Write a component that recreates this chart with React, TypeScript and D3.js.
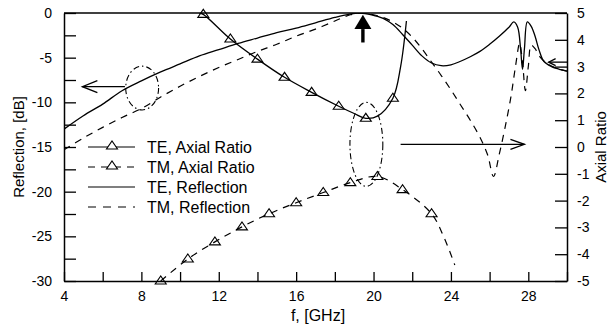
import React, { useEffect, useRef } from 'react'
import * as d3 from 'd3'

// TE, Reflection (solid) - dB vs GHz
const teRefFreq = [4, 5, 6, 7, 8, 9, 10, 11, 12, 13, 14, 15, 16, 17, 18, 18.7, 19.3, 19.9, 20.5, 21, 21.5, 22, 22.5, 23, 23.5, 24, 24.5, 25, 25.5, 26, 26.5, 27, 27.25, 27.45, 27.6, 27.7, 27.8, 27.95, 28.15, 28.35, 28.55, 28.8, 29.2, 29.6, 30]
const teRefDb = [-13.0, -11.5, -10.2, -8.7, -7.6, -6.6, -5.7, -4.8, -4.1, -3.4, -2.8, -2.2, -1.7, -1.1, -0.5, -0.15, 0, -0.2, -0.6, -1.3, -2.4, -3.6, -4.8, -5.6, -5.9, -5.8, -5.4, -4.9, -4.3, -3.5, -2.6, -1.6, -1.0, -1.6, -4.0, -6.3, -4.0, -1.0, -1.5, -2.6, -4.1, -5.4, -6.0, -6.3, -6.5]

// TM, Reflection (dashed)
const tmRefFreq = [4, 5, 6, 7, 8, 9, 10, 11, 12, 13, 14, 15, 16, 17, 18, 18.8, 19.4, 20, 20.5, 21, 21.5, 22, 22.5, 23, 23.5, 24, 24.5, 25, 25.5, 25.9, 26.2, 26.5, 26.8, 27.1, 27.35, 27.55, 27.7, 27.85, 28.0, 28.15, 28.35, 28.6, 29, 29.5, 30]
const tmRefDb = [-15.3, -14.0, -12.8, -11.7, -10.7, -9.4, -8.2, -7.1, -6.1, -5.2, -4.3, -3.5, -2.6, -1.8, -0.9, -0.2, 0, -0.2, -0.5, -1.0, -1.7, -2.7, -4.0, -5.5, -7.0, -8.6, -10.3, -12.0, -13.9, -15.9, -18.3, -15.8, -12.8, -9.4, -5.8, -3.4, -5.5, -8.7, -6.0, -3.6, -4.0, -4.9, -5.7, -6.2, -6.5]

// TE, Axial Ratio (solid + triangles)
const teArFreq = [11.0, 11.2, 12.6, 14.0, 15.4, 16.8, 18.2, 19.0, 19.6, 20.2, 21.0, 21.4, 21.7]
const teArVal = [5.0, 4.95, 4.03, 3.28, 2.6, 2.04, 1.52, 1.25, 1.07, 1.15, 1.82, 3.0, 4.7]
const teArMarkFreq = [11.2, 12.6, 14.0, 15.4, 16.8, 18.2, 19.6, 21.0]
const teArMarkVal = [4.95, 4.03, 3.28, 2.6, 2.04, 1.52, 1.07, 1.82]

// TM, Axial Ratio (dashed + triangles)
const tmArFreq = [9.0, 10.4, 11.8, 13.2, 14.6, 16.0, 17.4, 18.8, 20.2, 21.5, 23.0, 23.6, 24.2]
const tmArVal = [-5.0, -4.18, -3.54, -2.98, -2.49, -2.08, -1.7, -1.33, -1.1, -1.59, -2.49, -3.3, -4.4]
const tmArMarkFreq = [9.0, 10.4, 11.8, 13.2, 14.6, 16.0, 17.4, 18.8, 20.2, 21.5, 23.0]
const tmArMarkVal = [-5.0, -4.18, -3.54, -2.98, -2.49, -2.08, -1.7, -1.33, -1.1, -1.59, -2.49]

const xTicks = d3.range(4, 30.01, 2)
const yLeftTicks = d3.range(-30, 0.01, 2.5)
const yRightTicks = d3.range(-5, 5.01, 1)
const legendLabels = ['TE, Axial Ratio', 'TM, Axial Ratio', 'TE, Reflection', 'TM, Reflection']

const FONT = '"Liberation Sans", Arial, sans-serif'

const App = () => {
  const ref = useRef(null)

  useEffect(() => {
    const root = d3.select(ref.current)
    root.selectAll('*').remove()

    const left = 64
    const right = 567
    const top = 13
    const bottom = 281

    const x = d3.scaleLinear().domain([4, 30]).range([left, right])
    const yL = d3.scaleLinear().domain([-30, 0]).range([bottom, top])
    const yR = d3.scaleLinear().domain([-5, 5]).range([bottom, top])

    root.append('rect').attr('width', 612).attr('height', 324).attr('fill', '#fff')

    root
      .append('defs')
      .append('clipPath')
      .attr('id', 'plotclip')
      .append('rect')
      .attr('x', left)
      .attr('y', top)
      .attr('width', right - left)
      .attr('height', bottom - top)

    // frame top
    root.append('line').attr('x1', left).attr('x2', right).attr('y1', top).attr('y2', top).attr('stroke', '#000').attr('stroke-width', 1.3)

    const styleAxis = g => {
      g.select('.domain').attr('stroke', '#000').attr('stroke-width', 1.5)
      g.selectAll('.tick line').attr('stroke', '#000').attr('stroke-width', 1.3)
      g.selectAll('text').attr('font-family', FONT).attr('font-size', 14).attr('fill', '#000')
    }

    root // xaxis
      .append('g')
      .attr('transform', `translate(0, ${bottom})`)
      .call(
        d3.axisBottom(x).tickValues(xTicks).tickSize(-9).tickSizeOuter(0).tickPadding(10)
          .tickFormat(d => (d % 4 === 0 && d < 30 ? String(d) : ''))
      )
      .call(styleAxis)

    root // yaxis left
      .append('g')
      .attr('transform', `translate(${left}, 0)`)
      .call(
        d3.axisLeft(yL).tickValues(yLeftTicks).tickSize(-12).tickSizeOuter(0).tickPadding(12)
          .tickFormat(d => (d % 5 === 0 ? String(d) : ''))
      )
      .call(styleAxis)

    root // yaxis right
      .append('g')
      .attr('transform', `translate(${right}, 0)`)
      .call(d3.axisRight(yR).tickValues(yRightTicks).tickSize(-12).tickSizeOuter(0).tickPadding(10).tickFormat(d => String(d)))
      .call(styleAxis)

    // axis titles
    root.append('text').text('f, [GHz]').attr('x', 318).attr('y', 321).attr('text-anchor', 'middle')
      .attr('font-family', FONT).attr('font-size', 16)
    root.append('text').text('Reflection, [dB]').attr('transform', 'translate(24,147) rotate(-90)').attr('text-anchor', 'middle')
      .attr('font-family', FONT).attr('font-size', 15)
    root.append('text').text('Axial Ratio').attr('transform', 'translate(606,147) rotate(-90)').attr('text-anchor', 'middle')
      .attr('font-family', FONT).attr('font-size', 15)

    const plot = root.append('g').attr('clip-path', 'url(#plotclip)')
    const curve = d3.curveCatmullRom.alpha(0.5)

    const lineL = d3.line().x(d => x(d[0])).y(d => yL(d[1])).curve(curve)
    const lineR = d3.line().x(d => x(d[0])).y(d => yR(d[1])).curve(curve)

    plot.append('path').attr('d', lineL(d3.zip(teRefFreq, teRefDb))).attr('fill', 'none').attr('stroke', '#000').attr('stroke-width', 1.3)
    plot.append('path').attr('d', lineL(d3.zip(tmRefFreq, tmRefDb))).attr('fill', 'none').attr('stroke', '#000').attr('stroke-width', 1.2)
      .attr('stroke-dasharray', '7,6')
    plot.append('path').attr('d', lineR(d3.zip(teArFreq, teArVal))).attr('fill', 'none').attr('stroke', '#000').attr('stroke-width', 1.3)
    plot.append('path').attr('d', lineR(d3.zip(tmArFreq, tmArVal))).attr('fill', 'none').attr('stroke', '#000').attr('stroke-width', 1.2)
      .attr('stroke-dasharray', '7,6')

    const tri = 'M-5.5,3 L5.5,3 L0,-5 Z'
    root.append('g').selectAll('path').data(d3.zip(teArMarkFreq, teArMarkVal)).enter().append('path')
      .attr('d', tri).attr('transform', d => `translate(${x(d[0])},${yR(d[1])})`)
      .attr('fill', 'none').attr('stroke', '#000').attr('stroke-width', 1.1)
    root.append('g').selectAll('path').data(d3.zip(tmArMarkFreq, tmArMarkVal)).enter().append('path')
      .attr('d', tri).attr('transform', d => `translate(${x(d[0])},${yR(d[1])})`)
      .attr('fill', 'none').attr('stroke', '#000').attr('stroke-width', 1.1)

    // dash-dot ellipses
    const ell = (f, db, rf, rdb) =>
      root.append('ellipse')
        .attr('cx', x(f)).attr('cy', yL(db))
        .attr('rx', x(f + rf) - x(f)).attr('ry', yL(db - rdb) - yL(db))
        .attr('fill', 'none').attr('stroke', '#000').attr('stroke-width', 1.1).attr('stroke-dasharray', '6,3,1.5,3')
    ell(8.04, -8.4, 0.85, 2.45)
    ell(19.63, -14.7, 0.85, 4.7)

    // open arrows
    const arrow = (x1, y1, x2, y2, head, half) => {
      const dir = Math.sign(x2 - x1)
      root.append('line').attr('x1', x1).attr('y1', y1).attr('x2', x2).attr('y2', y2).attr('stroke', '#000').attr('stroke-width', 1.3)
      root.append('path')
        .attr('d', `M${x2 - dir * head},${y2 - half} L${x2},${y2} L${x2 - dir * head},${y2 + half}`)
        .attr('fill', 'none').attr('stroke', '#000').attr('stroke-width', 1.3)
    }
    arrow(x(7.15), yL(-8.25), x(4.95), yL(-8.25), 15, 6)
    arrow(x(21.4), yR(0.1), x(27.8), yR(0.1), 14, 5)
    arrow(right, yL(-5.5), x(29.05), yL(-5.5), 7, 3.5)

    // black up arrow at the shared peak
    const ax = x(19.45)
    root.append('rect').attr('x', ax - 1.7).attr('y', yL(-1.8)).attr('width', 3.4).attr('height', yL(-3.3) - yL(-1.8)).attr('fill', '#000')
    root.append('path').attr('d', `M${ax - 8.5},${yL(-1.8)} L${ax + 8.5},${yL(-1.8)} L${ax},${yL(-0.2)} Z`).attr('fill', '#000')

    // legend
    const lg = root.append('g')
    legendLabels.forEach((label, i) => {
      const cy = 147 + i * 20
      const l = lg.append('line').attr('x1', 88).attr('x2', 135).attr('y1', cy).attr('y2', cy).attr('stroke', '#000').attr('stroke-width', 1.2)
      if (i % 2 === 1) l.attr('stroke-dasharray', i === 1 ? '7,6' : '8,7')
      if (i < 2) lg.append('path').attr('d', tri).attr('transform', `translate(112,${cy - 1})`).attr('fill', '#fff').attr('stroke', '#000').attr('stroke-width', 1.1)
      lg.append('text').text(label).attr('x', 147).attr('y', cy).attr('dy', '0.36em')
        .attr('font-family', FONT).attr('font-size', 16)
    })
  }, [])

  return <svg ref={ref} width={612} height={324} style={{ position: 'absolute', left: 0, top: 0 }} />
}

export default App
